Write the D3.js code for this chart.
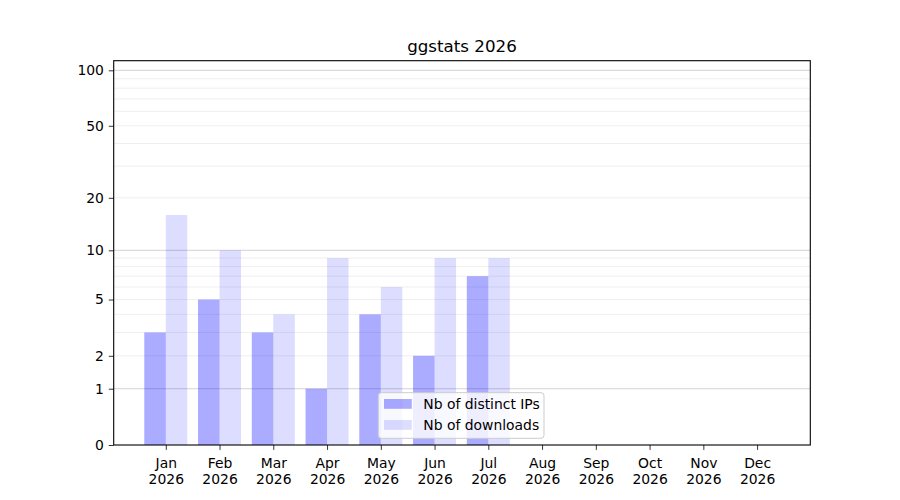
<!DOCTYPE html>
<html>
<head>
<meta charset="utf-8">
<script src="https://cdn.jsdelivr.net/npm/d3@7"></script>
<style>
  body { margin: 0; background: #fff; }
  svg { font-family: "DejaVu Sans", sans-serif; }
</style>
</head>
<body>
<svg id="chart" width="900" height="500"></svg>
<script>
// chart data
const months = ["Jan", "Feb", "Mar", "Apr", "May", "Jun", "Jul", "Aug", "Sep", "Oct", "Nov", "Dec"];
const year = "2026";
const distinctIPs = [3, 5, 3, 1, 4, 2, 7];
const downloads = [16, 10, 4, 9, 6, 9, 9];
const yTicks = [0, 1, 2, 5, 10, 20, 50, 100];
const majorGrid = [1, 10, 100];
const minorGrid = [2, 3, 4, 5, 6, 7, 8, 9, 20, 30, 40, 50, 60, 70, 80, 90];
const seriesNames = ["Nb of distinct IPs", "Nb of downloads"];

const svg = d3.select("#chart");
const plotLeft = 113.7, plotRight = 810.3, plotTop = 60.7, plotBottom = 445;

// x positions are month indexes, bars sit 0.4 either side of the tick
const x = d3.scaleLinear().domain([-0.969, 11.99]).range([plotLeft, plotRight]);
// log(1 + y) looking axis
const y = d3.scaleSymlog().constant(1).domain([0, 112.7]).range([plotBottom, plotTop]);
const barW = 0.4;

const g = svg.append("g");

// grid lines
g.selectAll(".minor")
  .data(minorGrid)
  .enter()
  .append("line")
  .attr("x1", plotLeft).attr("x2", plotRight)
  .attr("y1", d => y(d)).attr("y2", d => y(d))
  .style("stroke", "#ebebeb")
  .style("stroke-width", 0.8);

g.selectAll(".major")
  .data(majorGrid)
  .enter()
  .append("line")
  .attr("x1", plotLeft).attr("x2", plotRight)
  .attr("y1", d => y(d)).attr("y2", d => y(d))
  .style("stroke", "#c8c8c8")
  .style("stroke-width", 0.8);

// bars
g.selectAll(".ips")
  .data(distinctIPs)
  .enter()
  .append("rect")
  .attr("x", (d, i) => x(i - barW))
  .attr("width", x(barW) - x(0))
  .attr("y", d => y(d))
  .attr("height", d => y(0) - y(d))
  .style("fill", "blue")
  .style("fill-opacity", 0.33);

g.selectAll(".dl")
  .data(downloads)
  .enter()
  .append("rect")
  .attr("x", (d, i) => x(i))
  .attr("width", x(barW) - x(0))
  .attr("y", d => y(d))
  .attr("height", d => y(0) - y(d))
  .style("fill", "blue")
  .style("fill-opacity", 0.133);

// axes
const yAxis = d3.axisLeft(y)
  .tickValues(yTicks)
  .tickFormat(d3.format("d"))
  .tickSize(4.9)
  .tickPadding(4.9);

const xAxis = d3.axisBottom(x)
  .tickValues(d3.range(months.length))
  .tickFormat(i => months[i])
  .tickSize(4.9)
  .tickPadding(4.9);

const ya = svg.append("g")
  .attr("transform", `translate(${plotLeft},0)`)
  .call(yAxis);
ya.select(".domain").remove();
ya.selectAll("text")
  .style("font-size", "13.9px")
  .style("font-family", "DejaVu Sans")
  .attr("fill", "#000");
ya.selectAll("line").attr("stroke", "#000").attr("stroke-width", 0.8);

const xa = svg.append("g")
  .attr("transform", `translate(0,${plotBottom})`)
  .call(xAxis);
xa.select(".domain").remove();
xa.selectAll("line").attr("stroke", "#000").attr("stroke-width", 0.8);
xa.selectAll("text").remove();
xa.selectAll(".tick")
  .append("text")
  .attr("text-anchor", "middle")
  .attr("y", 9.8)
  .style("font-size", "13.9px")
  .style("font-family", "DejaVu Sans")
  .attr("fill", "#000")
  .each(function(i) {
        const t = d3.select(this);
        t.append("tspan").attr("x", 0).attr("dy", "0.95em").text(months[i]);
        t.append("tspan").attr("x", 0).attr("dy", "1.17em").text(year);
  });

// frame
svg.append("rect")
  .attr("x", plotLeft).attr("y", plotTop)
  .attr("width", plotRight - plotLeft).attr("height", plotBottom - plotTop)
  .style("fill", "none")
  .style("stroke", "#000")
  .style("stroke-width", 1.1);

// title
svg.append("text")
  .attr("x", (plotLeft + plotRight) / 2)
  .attr("y", 52)
  .attr("text-anchor", "middle")
  .style("font-size", "16.7px")
  .style("font-family", "DejaVu Sans")
  .text("ggstats " + year);

// legend
const leg = svg.append("g").attr("transform", "translate(378.3,392.7)");
leg.append("rect")
  .attr("width", 165.7).attr("height", 45.6)
  .attr("rx", 3)
  .style("fill", "#fff")
  .style("fill-opacity", 0.8)
  .style("stroke", "#cccccc")
  .style("stroke-width", 1);

const legRows = leg.selectAll(".row")
  .data(seriesNames)
  .enter()
  .append("g")
  .attr("transform", (d, i) => `translate(5.7,${6.3 + i * 21})`);

legRows.append("rect")
  .attr("width", 27.8).attr("height", 9.8)
  .style("fill", "blue")
  .style("fill-opacity", (d, i) => i === 0 ? 0.33 : 0.133);

legRows.append("text")
  .attr("x", 39.3)
  .attr("y", 9.6)
  .style("font-size", "13.9px")
  .style("font-family", "DejaVu Sans")
  .text(d => d);
</script>
</body>
</html>
